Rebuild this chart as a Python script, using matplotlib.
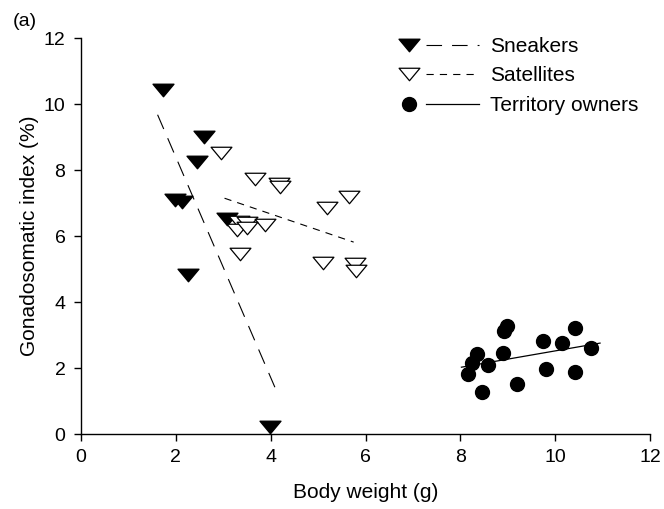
import matplotlib
matplotlib.use("Agg")
import matplotlib.pyplot as plt
import numpy as np
from matplotlib.lines import Line2D
from matplotlib.legend_handler import HandlerBase
from matplotlib.path import Path

plt.rcParams['font.family'] = ['Liberation Sans', 'DejaVu Sans']

# sneakers
sneak_x = [1.73, 2.59, 2.45, 1.99, 2.13, 3.08, 2.26, 3.98]
sneak_y = [10.42, 9.00, 8.24, 7.10, 7.05, 6.52, 4.83, 0.21]
sneak_fit_x = [1.62, 4.16]
sneak_fit_y = [9.68, 1.19]

# satellites
sat_x = [2.96, 3.68, 4.17, 4.20, 5.65, 5.19, 3.33, 3.50, 3.89, 3.29, 3.50, 3.36, 5.10, 5.77, 5.79]
sat_y = [8.53, 7.73, 7.58, 7.50, 7.20, 6.85, 6.44, 6.39, 6.33, 6.19, 6.24, 5.47, 5.18, 5.15, 4.93]
sat_fit_x = [3.03, 5.75]
sat_fit_y = [7.15, 5.82]

# territory owners
terr_x = [8.97, 8.92, 10.41, 9.73, 10.13, 10.74, 8.89, 8.34, 8.25, 8.58, 9.80, 10.41, 8.16, 9.20, 8.46]
terr_y = [3.28, 3.14, 3.23, 2.81, 2.76, 2.61, 2.47, 2.43, 2.15, 2.10, 1.97, 1.88, 1.82, 1.52, 1.29]
terr_fit_x = [8.02, 10.94]
terr_fit_y = [2.03, 2.76]

labels = ['Sneakers', 'Satellites', 'Territory owners']

# flat downward triangle
tri = Path([(-1, 0.6), (1, 0.6), (0, -0.6), (-1, 0.6)],
           [Path.MOVETO, Path.LINETO, Path.LINETO, Path.CLOSEPOLY])

long_dash = (0, (14, 9))
short_dash = (0, (6.5, 5.5))

fig = plt.figure(figsize=(6.64, 5.09), dpi=100)
ax = fig.add_axes([0.1215, 0.147, 0.858, 0.778])

ax.plot(sneak_x, sneak_y, ls='none', marker=tri, ms=15, mfc='k', mec='k', clip_on=False, zorder=3)
ax.plot(sneak_fit_x, sneak_fit_y, color='k', lw=0.8, ls=long_dash, zorder=2)

ax.plot(sat_x, sat_y, ls='none', marker=tri, ms=15, mfc='white', mec='k', mew=0.9, zorder=3)
ax.plot(sat_fit_x, sat_fit_y, color='k', lw=0.8, ls=short_dash, zorder=2)

ax.plot(terr_x, terr_y, ls='none', marker='o', ms=10, mfc='k', mec='k', zorder=3)
ax.plot(terr_fit_x, terr_fit_y, color='k', lw=0.9, ls='-', zorder=4)

ax.set_xlim(0, 12)
ax.set_ylim(0, 12)
ax.set_xticks(np.arange(0, 13, 2))
ax.set_yticks(np.arange(0, 13, 2))
for s in ['top', 'right']:
    ax.spines[s].set_visible(False)
for s in ['left', 'bottom']:
    ax.spines[s].set_linewidth(1.0)
ax.tick_params(direction='out', length=5, width=1, labelsize=14, pad=6)

ax.set_xlabel('Body weight (g)', fontsize=15, labelpad=12)
ax.set_ylabel('Gonadosomatic index (%)', fontsize=15, labelpad=3)
fig.text(0.019, 0.975, '(a)', fontsize=14, va='top')


class MarkerLine(HandlerBase):
    def create_artists(self, legend, orig_handle, xdescent, ydescent, width, height, fontsize, trans):
        mk, ln = orig_handle
        y = height / 2 - ydescent
        x0 = -xdescent
        m = Line2D([x0 + 0.127 * width], [y])
        m.update_from(mk)
        m.set_transform(trans)
        l = Line2D([x0 + 0.34 * width, x0 + width], [y, y])
        l.update_from(ln)
        l.set_transform(trans)
        return [m, l]


handles = [
    (Line2D([], [], ls='none', marker=tri, ms=15, mfc='k', mec='k'),
     Line2D([], [], color='k', lw=0.8, ls=long_dash)),
    (Line2D([], [], ls='none', marker=tri, ms=15, mfc='white', mec='k', mew=0.9),
     Line2D([], [], color='k', lw=0.8, ls=short_dash)),
    (Line2D([], [], ls='none', marker='o', ms=10, mfc='k', mec='k'),
     Line2D([], [], color='k', lw=0.9, ls='-')),
]
ax.legend(handles=handles, labels=labels, handler_map={tuple: MarkerLine()},
          loc='upper left', bbox_to_anchor=(0.5733, 0.964), bbox_transform=fig.transFigure,
          frameon=False, fontsize=15, handlelength=3.8, handletextpad=0.53,
          labelspacing=0.5, borderpad=0.4)

fig.savefig('out.png', dpi=100)
